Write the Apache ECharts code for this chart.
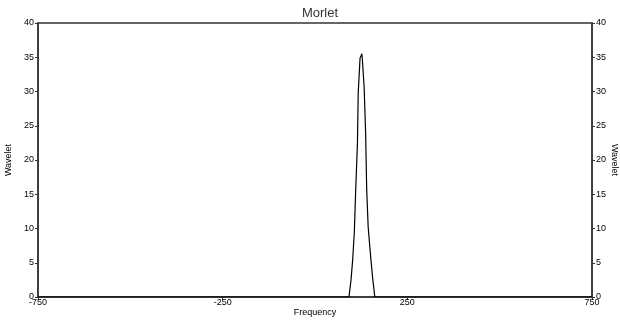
<!DOCTYPE html>
<html><head><meta charset="utf-8">
<script src="https://cdn.jsdelivr.net/npm/echarts@6/dist/echarts.min.js"></script>
<style>html,body{margin:0;padding:0;background:#fff}#c{width:620px;height:323px}</style>
</head><body><div id="c"></div>
<script>
const titleText = 'Morlet';
const xName = 'Frequency';
const yName = 'Wavelet';
const xTicks = [-750, -250, 250, 750];
const yTicks = [0, 5, 10, 15, 20, 25, 30, 35, 40];
const freqs =   [-750, 92, 97.5, 102, 106.5, 110, 115, 117, 122, 127, 128, 133, 137, 140, 144, 151, 156, 162, 750];
const wavelet = [0,    0,  2.5,  5.4, 9.5,   15.3, 22.6, 29.8, 34.9, 35.5, 34.9, 30.7, 24.1, 15.6, 10.2, 5.7, 2.8, 0, 0];

const pts = freqs.map((f, i) => [f, wavelet[i]]);
const fnt = 'Liberation Sans, Arial, sans-serif';
const lab = {fontSize: 9, color: '#000', fontFamily: fnt};
const axLine = {onZero: false, lineStyle: {color: '#333', width: 1.5}};
const yCommon = {
  type: 'value', min: yTicks[0], max: yTicks[yTicks.length-1], interval: 5,
  axisLine: Object.assign({show: true}, axLine),
  axisTick: {show: true, length: 3, lineStyle: {color: '#333'}},
  splitLine: {show: false},
  name: yName, nameLocation: 'middle', nameMoveOverlap: false,
  nameTextStyle: {fontSize: 9, color: '#000', fontFamily: fnt}
};
const chart = echarts.init(document.getElementById('c'), null, {renderer: 'canvas'});
chart.setOption({
  animation: false,
  title: {text: titleText, left: 315, textAlign: 'center', top: 2,
    textStyle: {fontSize: 13, fontWeight: 'normal', color: '#333', fontFamily: fnt}},
  grid: {left: 38, right: 28, top: 23, bottom: 26, containLabel: false, outerBoundsMode: 'none',
    show: true, borderColor: '#333', borderWidth: 1.5, backgroundColor: 'transparent'},
  xAxis: {
    type: 'value', min: -750, max: 750, interval: 500,
    axisLine: axLine, axisTick: {show: true, length: 3, lineStyle: {color: '#333'}},
    splitLine: {show: false},
    axisLabel: Object.assign({margin: 1, formatter: v => xTicks.includes(v) ? String(v) : ''}, lab),
    name: xName, nameLocation: 'middle', nameGap: 11, nameMoveOverlap: false,
    nameTextStyle: {fontSize: 9, color: '#000', fontFamily: fnt}
  },
  yAxis: [
    Object.assign({}, yCommon, {position: 'left', nameGap: 25, nameRotate: 90,
      axisLabel: Object.assign({margin: 4}, lab)}),
    Object.assign({}, yCommon, {position: 'right', nameGap: 18, nameRotate: -90,
      axisLabel: Object.assign({margin: 4}, lab)})
  ],
  series: [{
    type: 'line', data: pts, showSymbol: false, symbol: 'none',
    lineStyle: {color: '#000', width: 1.2}
  }]
});
</script></body></html>
